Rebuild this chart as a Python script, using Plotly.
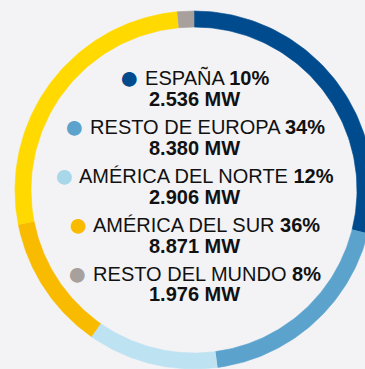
import numpy as np
import plotly.graph_objects as go

# Installed capacity by region
regions = ["ESPAÑA", "RESTO DE EUROPA", "AMÉRICA DEL NORTE", "AMÉRICA DEL SUR", "RESTO DEL MUNDO"]
share_pct = [10, 34, 12, 36, 8]
capacity_mw = [2536, 8380, 2906, 8871, 1976]
region_colors = ["#004B8D", "#5BA3CD", "#A9D7EA", "#F9BB00", "#A8A09D"]

# Decorative ring segments, clockwise from 12 o'clock (share of the full circle, %)
ring_share = [28.9, 19.0, 11.8, 12.2, 26.6, 1.5]
ring_colors = ["#004B8D", "#5BA3CD", "#BDE2F1", "#F9BB00", "#FFD900", "#A8A09D"]

BG = "#F3F3F6"
W, H = 365, 369
CX, CY, R_OUT, R_IN = 194, 190, 179, 163  # ring geometry in pixels

fig = go.Figure()

# ring: each segment is a filled annular sector built from its share
start = 0.0
for share, col in zip(ring_share, ring_colors):
    end = start + share / 100 * 2 * np.pi
    th = np.linspace(start, end, 80)
    r_o, r_i = 1.0, R_IN / R_OUT
    xs = np.concatenate([r_o * np.sin(th), r_i * np.sin(th[::-1])])
    ys = np.concatenate([r_o * np.cos(th), r_i * np.cos(th[::-1])])
    fig.add_trace(go.Scatter(
        x=xs, y=ys, mode="lines", fill="toself", fillcolor=col,
        line=dict(width=0.6, color=col), hoverinfo="skip", showlegend=False,
    ))
    start = end

def fmt_mw(v):
    return f"{v:,}".replace(",", ".") + " MW"

# centred legend text: two lines per region
first_line_px = 79
item_step = 48.9
line_gap = 19.8
font = dict(family="Liberation Sans, Arial, sans-serif", size=20, color="#111111")
for i, (name, pct, mw, col) in enumerate(zip(regions, share_pct, capacity_mw, region_colors)):
    y1 = first_line_px + i * item_step
    y2 = y1 + line_gap
    fig.add_annotation(
        x=CX / W, y=1 - y1 / H, xref="paper", yref="paper", yshift=1.5,
        xanchor="center", yanchor="middle", showarrow=False,
        text=(f"<span style='color:{col};font-size:34px;baseline-shift:-4px'>●</span>"
              f" {name} <b>{pct}%</b>"),
        font=font,
    )
    fig.add_annotation(
        x=CX / W, y=1 - y2 / H, xref="paper", yref="paper",
        xanchor="center", yanchor="middle", showarrow=False,
        text=f"<b>{fmt_mw(mw)}</b>", font=font,
    )

fig.update_xaxes(range=[-CX / R_OUT, (W - CX) / R_OUT], visible=False, fixedrange=True)
fig.update_yaxes(range=[-(H - CY) / R_OUT, CY / R_OUT], visible=False, fixedrange=True)
fig.update_layout(
    width=W, height=H, margin=dict(l=0, r=0, t=0, b=0),
    paper_bgcolor=BG, plot_bgcolor=BG, showlegend=False,
)

fig.write_html("out.html", config={"displayModeBar": False})
